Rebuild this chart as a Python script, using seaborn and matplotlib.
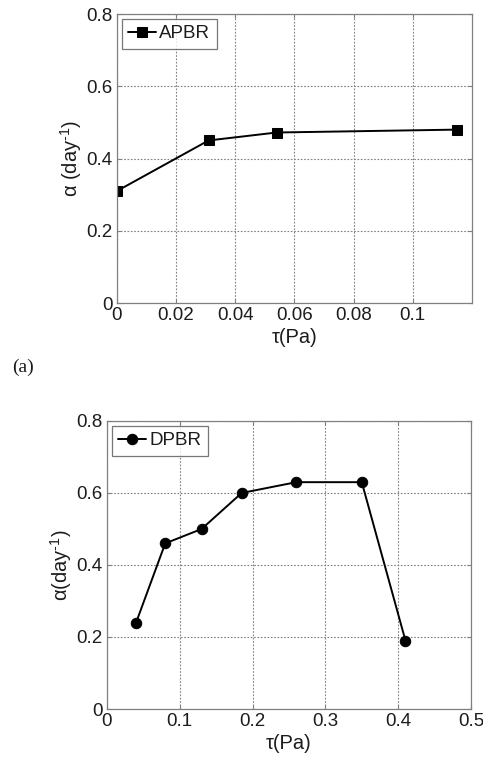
import matplotlib
matplotlib.use('Agg')
import matplotlib.pyplot as plt
import seaborn as sns
import pandas as pd

# --- dados ---
tau_apbr = [0.0, 0.031, 0.054, 0.115]
alfa_apbr = [0.31, 0.45, 0.472, 0.48]

tau_dpbr = [0.04, 0.08, 0.13, 0.185, 0.26, 0.35, 0.41]
alfa_dpbr = [0.24, 0.46, 0.50, 0.60, 0.63, 0.63, 0.19]

xticks_a = [0, 0.02, 0.04, 0.06, 0.08, 0.1]
xticks_b = [0, 0.1, 0.2, 0.3, 0.4, 0.5]
yticks = [0, 0.2, 0.4, 0.6, 0.8]

df_a = pd.DataFrame({'tau': tau_apbr, 'alfa': alfa_apbr})
df_b = pd.DataFrame({'tau': tau_dpbr, 'alfa': alfa_dpbr})

sns.set_style('ticks')
plt.rcParams['font.family'] = ['Liberation Sans', 'DejaVu Sans']
plt.rcParams['mathtext.fontset'] = 'custom'
plt.rcParams['mathtext.rm'] = 'Liberation Sans'
plt.rcParams['mathtext.it'] = 'Liberation Sans:italic'

cor_txt = '#1c1c1c'
fig = plt.figure(figsize=(4.83, 7.57), dpi=100)
ax1 = fig.add_axes([0.242, 0.5997, 0.735, 0.3818])
ax2 = fig.add_axes([0.2215, 0.0634, 0.7536, 0.3805])


def estilo(ax, xlim, xticks, ylabel):
    ax.set_xlim(*xlim)
    ax.set_ylim(0, 0.8)
    ax.set_xticks(xticks)
    ax.set_yticks(yticks)
    ax.set_xticklabels([f'{t:g}' for t in xticks])
    ax.set_yticklabels([f'{t:g}' for t in yticks])
    ax.grid(True, linestyle=(0, (1.5, 1.5)), color='#808080', linewidth=0.8)
    ax.tick_params(direction='in', length=3, labelsize=13.5, colors='#808080',
                   labelcolor=cor_txt, top=True, right=True, pad=3)
    for s in ax.spines.values():
        s.set_color('#808080')
        s.set_linewidth(0.9)
    ax.set_xlabel('τ(Pa)', fontsize=14.5, color=cor_txt, labelpad=3)
    ax.set_ylabel(ylabel, fontsize=14.5, color=cor_txt, labelpad=2)
    leg = ax.legend(loc='upper left', fontsize=13.5, frameon=True, fancybox=False,
                    borderaxespad=0.25, handlelength=1.5, handletextpad=0.15,
                    borderpad=0.35, labelcolor=cor_txt)
    leg.get_frame().set_edgecolor('#555555')
    leg.get_frame().set_linewidth(0.9)


sns.lineplot(data=df_a, x='tau', y='alfa', ax=ax1, color='black', marker='s',
             markersize=6.5, markeredgecolor='black', linewidth=1.4, label='APBR')
estilo(ax1, (0, 0.12), xticks_a, r'α (day$^{\text{-}1}$)')

sns.lineplot(data=df_b, x='tau', y='alfa', ax=ax2, color='black', marker='o',
             markersize=7.5, markeredgecolor='black', linewidth=1.4, label='DPBR')
estilo(ax2, (0, 0.5), xticks_b, r'α(day$^{\text{-}1}$)')

fig.text(0.025, 0.515, '(a)', family='Liberation Serif', fontsize=14, color=cor_txt,
         va='center', ha='left')

fig.savefig('out.png', dpi=100)
